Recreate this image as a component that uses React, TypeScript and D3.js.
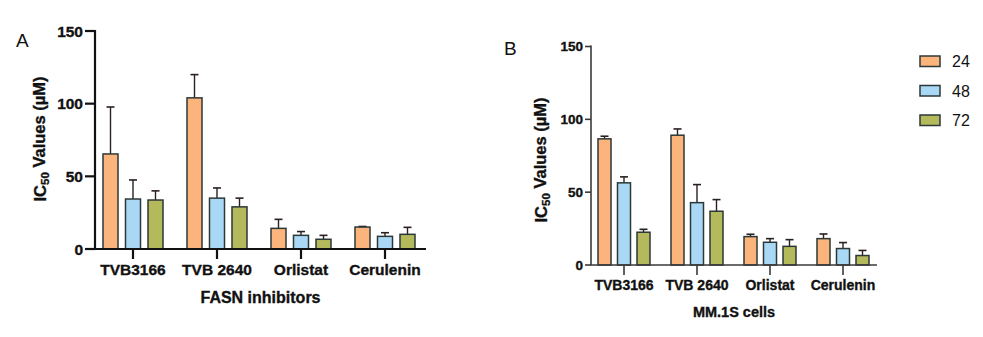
import React from "react";
import * as d3 from "d3";

const categories = ["TVB3166", "TVB 2640", "Orlistat", "Cerulenin"];
const series = ["24", "48", "72"];
const yTicks = [0, 50, 100, 150];

const meanA: Record<string, number[]> = {
  "24": [65.4, 104, 14.2, 15.1],
  "48": [34.4, 35, 9.4, 8.7],
  "72": [33.7, 29, 6.7, 10.1],
};
const errA: Record<string, number[]> = {
  "24": [32.3, 16, 6.2, 0.4],
  "48": [13.1, 7, 2.6, 2.5],
  "72": [6.3, 6, 2.7, 4.8],
};
const meanB: Record<string, number[]> = {
  "24": [86.6, 89.1, 19.5, 18.1],
  "48": [56.4, 42.8, 15.6, 11.3],
  "72": [22.5, 36.9, 12.8, 6.5],
};
const errB: Record<string, number[]> = {
  "24": [1.8, 4.3, 1.6, 3.2],
  "48": [4.1, 12.4, 2.5, 4.1],
  "72": [2.0, 8.0, 4.6, 3.5],
};

const colors: Record<string, string> = { "24": "#FBB47B", "48": "#A9D8F5", "72": "#B4B95C" };
const FONT = "'Liberation Sans', Arial, sans-serif";
const boldStroke = { stroke: "#111", strokeWidth: 0.35 };

type PanelProps = {
  letter: string;
  letterX: number;
  letterY: number;
  axisX: number;
  axisEnd: number;
  y0: number;
  y150: number;
  bandRange: [number, number];
  innerHalf: number;
  means: Record<string, number[]>;
  errs: Record<string, number[]>;
  axisColor: string;
  axisWidth: number;
  tickFont: number;
  xTickFont: number;
  xLabelY: number;
  title: string;
  titleY: number;
  titleFont: number;
  yTitleX: number;
  yTitleY: number;
  yTitleFont: number;
  yTickLen: number;
};

function Panel(p: PanelProps) {
  const y = d3.scaleLinear().domain([0, 150]).range([p.y0, p.y150]);
  const xb = d3.scaleBand<string>().domain(categories).range(p.bandRange).paddingInner(0);
  const xi = d3
    .scaleBand<string>()
    .domain(series)
    .range([-p.innerHalf, p.innerHalf])
    .paddingInner(1 / 3)
    .paddingOuter(0);
  const bw = xi.bandwidth();
  const cap = 8;
  const cx = (c: string) => (xb(c) as number) + xb.bandwidth() / 2;
  return (
    <g>
      <text x={p.letterX} y={p.letterY} fontFamily={FONT} fontSize={19} fill="#111">
        {p.letter}
      </text>
      {categories.map((c, ci) =>
        series.map((s) => {
          const m = p.means[s][ci];
          const e = p.errs[s][ci];
          const x0 = cx(c) + (xi(s) as number);
          const xm = x0 + bw / 2;
          return (
            <g key={c + s}>
              <line x1={xm} x2={xm} y1={y(m)} y2={y(m + e)} stroke="#2a2020" strokeWidth={1.4} />
              <line x1={xm - cap / 2} x2={xm + cap / 2} y1={y(m + e)} y2={y(m + e)} stroke="#2a2020" strokeWidth={1.6} />
              <rect x={x0} y={y(m)} width={bw} height={p.y0 - y(m)} fill={colors[s]} stroke="#2c3838" strokeWidth={1.5} />
            </g>
          );
        })
      )}
      <line x1={p.axisX} x2={p.axisX} y1={p.y150 - 1} y2={p.y0} stroke={p.axisColor} strokeWidth={p.axisWidth} />
      {yTicks.map((t) => (
        <g key={t}>
          <line x1={p.axisX - p.yTickLen} x2={p.axisX} y1={y(t)} y2={y(t)} stroke={p.axisColor} strokeWidth={p.axisWidth} />
          <text
            x={p.axisX - p.yTickLen - 2}
            y={y(t)}
            dy="0.36em"
            textAnchor="end"
            fontFamily={FONT}
            fontWeight="bold"
            fontSize={p.tickFont}
            fill="#111"
            {...boldStroke}
          >
            {t}
          </text>
        </g>
      ))}
      <line x1={p.axisX - p.axisWidth / 2} x2={p.axisEnd} y1={p.y0} y2={p.y0} stroke={p.axisColor} strokeWidth={p.axisWidth} />
      {categories.map((c) => (
        <g key={c}>
          <line x1={cx(c)} x2={cx(c)} y1={p.y0} y2={p.y0 + 10} stroke={p.axisColor} strokeWidth={p.axisWidth} />
          <text
            x={cx(c)}
            y={p.xLabelY}
            textAnchor="middle"
            fontFamily={FONT}
            fontWeight="bold"
            fontSize={p.xTickFont}
            fill="#111"
            {...boldStroke}
          >
            {c}
          </text>
        </g>
      ))}
      <text
        x={(p.axisX + p.axisEnd) / 2}
        y={p.titleY}
        textAnchor="middle"
        fontFamily={FONT}
        fontWeight="bold"
        fontSize={p.titleFont}
        fill="#111"
        {...boldStroke}
      >
        {p.title}
      </text>
      <text
        transform={`translate(${p.yTitleX},${p.yTitleY}) rotate(-90)`}
        textAnchor="middle"
        fontFamily={FONT}
        fontWeight="bold"
        fontSize={p.yTitleFont}
        fill="#111"
        {...boldStroke}
      >
        IC
        <tspan fontSize={p.yTitleFont * 0.7} dy="0.3em">
          50
        </tspan>
        <tspan dy="-0.3em"> Values (µM)</tspan>
      </text>
    </g>
  );
}

export default function App() {
  return (
    <svg
      width={983}
      height={337}
      viewBox="0 0 983 337"
      style={{ position: "absolute", left: 0, top: 0, background: "#fff" }}
    >
      <Panel
        letter="A"
        letterX={16}
        letterY={47}
        axisX={95}
        axisEnd={426}
        y0={249}
        y150={31}
        bandRange={[91, 427]}
        innerHalf={30}
        means={meanA}
        errs={errA}
        axisColor="#111"
        axisWidth={2.2}
        tickFont={15.5}
        xTickFont={15.5}
        xLabelY={275}
        title="FASN inhibitors"
        titleY={303}
        titleFont={16}
        yTitleX={46}
        yTitleY={139}
        yTitleFont={16.5}
        yTickLen={10}
      />
      <Panel
        letter="B"
        letterX={504}
        letterY={55}
        axisX={591}
        axisEnd={877}
        y0={265}
        y150={46.5}
        bandRange={[587.5, 879.5]}
        innerHalf={26}
        means={meanB}
        errs={errB}
        axisColor="#3a3a3a"
        axisWidth={1.6}
        tickFont={13.5}
        xTickFont={14}
        xLabelY={290}
        title="MM.1S cells"
        titleY={317}
        titleFont={14.5}
        yTitleX={547}
        yTitleY={160}
        yTitleFont={16.5}
        yTickLen={6}
      />
      {series.map((s, i) => (
        <g key={s} transform={`translate(920,${56 + i * 29.5})`}>
          <rect x={0} y={0} width={20} height={10.5} fill={colors[s]} stroke="#2c3838" strokeWidth={1.5} />
          <text x={32} y={5.5} dy="0.36em" fontFamily={FONT} fontSize={16} fill="#111">
            {s}
          </text>
        </g>
      ))}
    </svg>
  );
}
